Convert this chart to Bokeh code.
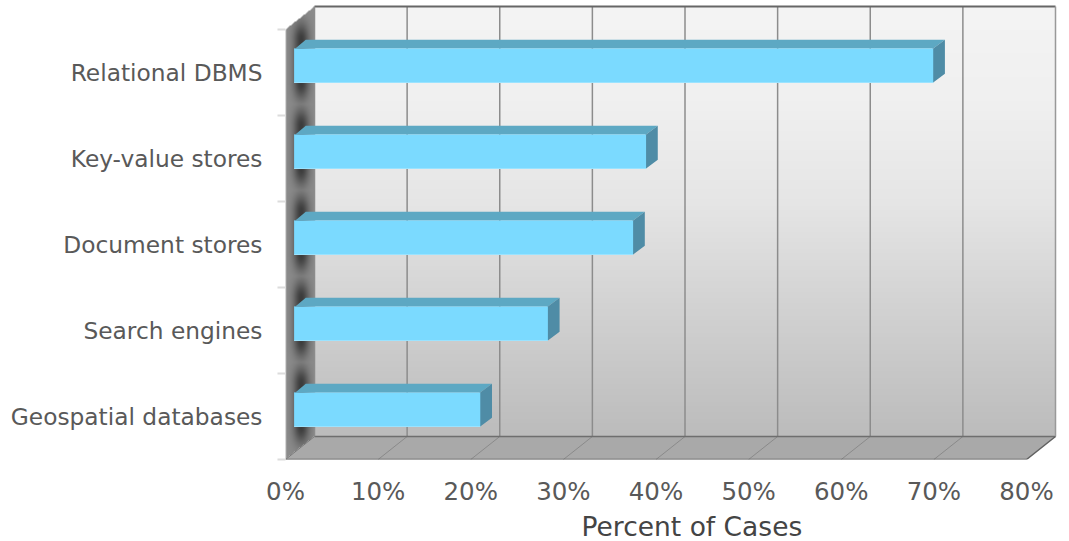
import numpy as np
from bokeh.embed import file_html
from bokeh.models import FixedTicker, Range1d, Title
from bokeh.plotting import figure
from bokeh.resources import INLINE

# Survey results, bottom band first
categories = ["Geospatial databases", "Search engines", "Document stores",
              "Key-value stores", "Relational DBMS"]
percent_of_cases = [20.1, 27.4, 36.6, 38.0, 69.0]
x_ticks = [0, 10, 20, 30, 40, 50, 60, 70, 80]

# Canvas geometry, in pixels
WIDTH, HEIGHT = 1069, 541
LEFT, FLOOR_Y = 285, 459
PX_PER_PCT = 741 / 80
PX_PER_BAND = 86

# 3D projection offsets expressed in data units
WALL_DX, WALL_DY = 29 / PX_PER_PCT, 23 / PX_PER_BAND
TOP_Y = 5 + WALL_DY
BAR_X0 = 8.6 / PX_PER_PCT
BAR_Y0, BAR_H = 33 / PX_PER_BAND, 34 / PX_PER_BAND
BAR_DX, BAR_DY = 11.7 / PX_PER_PCT, 8.7 / PX_PER_BAND
SEAM_X, SEAM_Y = 1 / PX_PER_PCT, 1 / PX_PER_BAND  # overlap that hides face joins

x_end = (WIDTH - LEFT) / PX_PER_PCT
y_end = FLOOR_Y / PX_PER_BAND

p = figure(width=WIDTH, height=HEIGHT, output_backend="svg", toolbar_location=None,
           x_range=Range1d(0, x_end), y_range=Range1d(0, y_end),
           min_border_left=LEFT, min_border_right=0, min_border_top=0,
           min_border_bottom=HEIGHT - FLOOR_Y, outline_line_color=None)
p.grid.visible = False

# Back wall: vertical grey gradient
rows = 200
t = np.linspace(0, 1, rows)  # 0 = bottom of wall
shade = np.interp(t, [0, 0.32, 0.55, 0.78, 1], [188, 212, 230, 240, 244]).astype(np.uint32)
wall = np.full((rows, 2), 0xFF000000, dtype=np.uint32) | shade[:, None] * 0x010101
p.image_rgba(image=[wall], x=WALL_DX, y=WALL_DY, dw=80, dh=5, level="underlay")

# Left wall: a grey parallelogram with soft dark shadows beside each bar
h_px, w_px = FLOOR_Y, 29
yy = (np.arange(h_px) + 0.5) / PX_PER_BAND
xx = (np.arange(w_px) + 0.5) / PX_PER_PCT
gx, gy = np.meshgrid(xx, yy)
shadow = np.zeros_like(gx)
for i in range(len(categories)):
    lo, hi = i + BAR_Y0, i + BAR_Y0 + BAR_H + BAR_DY
    dist = np.maximum(np.maximum(lo - gy, gy - hi), 0)
    across = np.exp(-((gx - 1.7) / 0.85) ** 2)
    shadow = np.maximum(shadow, np.exp(-(dist / 0.2) ** 2) * across)
side = np.clip(140 - 80 * shadow, 0, 255).astype(np.uint32)
rise = gx * WALL_DY / WALL_DX
inside = (gy > rise) & (gy < 5 + rise)
alpha = np.where(inside, 0xFF000000, 0).astype(np.uint32)
p.image_rgba(image=[alpha | side * 0x010101], x=0, y=0, dw=w_px / PX_PER_PCT,
             dh=h_px / PX_PER_BAND, level="underlay")

# Floor
p.patch([0, 80, 80 + WALL_DX, WALL_DX], [0, 0, WALL_DY, WALL_DY],
        fill_color="#a9a9a9", line_color=None)

# Gridlines on the back wall and floor
for tick in x_ticks[1:-1]:
    p.line([tick + WALL_DX, tick + WALL_DX], [WALL_DY, 5 + WALL_DY],
           line_color="#8c8c8c", line_width=1.5)
    p.line([tick, tick + WALL_DX], [0, WALL_DY], line_color="#8a8a8a", line_width=1)

# Frame outlines
p.line([WALL_DX, 80 + WALL_DX], [WALL_DY, WALL_DY], line_color="#6e6e6e", line_width=1.5)
p.line([WALL_DX, 80 + WALL_DX], [TOP_Y, TOP_Y], line_color="#666666", line_width=2)
p.line([80 + WALL_DX, 80 + WALL_DX], [WALL_DY, TOP_Y], line_color="#999999", line_width=1.5)
p.line([WALL_DX, WALL_DX], [WALL_DY, TOP_Y], line_color="#8c8c8c", line_width=1.5)
p.line([0, 80, 80 + WALL_DX], [0, 0, WALL_DY], line_color="#616161", line_width=1.5)
p.line([0, 0], [0, 5], line_color="#cfcfcf", line_width=1.5)
p.line([0, WALL_DX], [0, WALL_DY], line_color="#777777", line_width=1)

# Bars: front face plus projected top and end faces
for i, val in enumerate(percent_of_cases):
    x0, x1 = BAR_X0, BAR_X0 + val
    y0, y1 = i + BAR_Y0, i + BAR_Y0 + BAR_H
    p.patch([x0, x0, x1, x1 + BAR_DX, x0 + BAR_DX],
            [y1 - SEAM_Y, y1, y1, y1 + BAR_DY, y1 + BAR_DY],
            fill_color="#5da8c3", line_color=None)
    p.patch([x1 - SEAM_X, x1, x1 + BAR_DX, x1 + BAR_DX, x1, x1 - SEAM_X],
            [y0, y0, y0 + BAR_DY, y1 + BAR_DY, y1, y1],
            fill_color="#4f8ca6", line_color=None)
    p.quad(left=x0, right=x1, bottom=y0, top=y1, fill_color="#7bdaff", line_color=None)
    p.line([x0, x1], [y0, y0], line_color="#9be3ff", line_width=1)

# Axes
label_color = "#595959"
xa = p.xaxis[0]
xa.ticker = FixedTicker(ticks=x_ticks)
xa.major_label_overrides = {v: f"{v}%" for v in x_ticks}
xa.major_tick_out = 0
xa.major_tick_line_color = None
xa.minor_tick_line_color = None
xa.axis_line_color = None
xa.major_label_standoff = 17
xa.major_label_text_font = "DejaVu Sans"
xa.major_label_text_font_size = "24.5px"
xa.major_label_text_color = label_color

ya = p.yaxis[0]
midpoints = [i + 0.5 for i in range(len(categories))]
ya.ticker = FixedTicker(ticks=midpoints, minor_ticks=list(range(len(categories) + 1)))
ya.major_label_overrides = dict(zip(midpoints, categories))
ya.major_tick_out = 0
ya.major_tick_line_color = None
ya.minor_tick_line_color = "#dcdcdc"
ya.minor_tick_out = 8
ya.minor_tick_in = 0
ya.minor_tick_line_width = 2
ya.axis_line_color = None
ya.major_label_standoff = 15
ya.major_label_text_font = "DejaVu Sans"
ya.major_label_text_font_size = "23.3px"
ya.major_label_text_color = label_color

p.add_layout(Title(text="Percent of Cases", align="left", offset=581 - LEFT, standoff=0,
                   text_font="DejaVu Sans", text_font_size="26.5px", text_font_style="normal",
                   text_color="#444444"), "below")

open("out.html", "w").write(file_html(p, INLINE))
